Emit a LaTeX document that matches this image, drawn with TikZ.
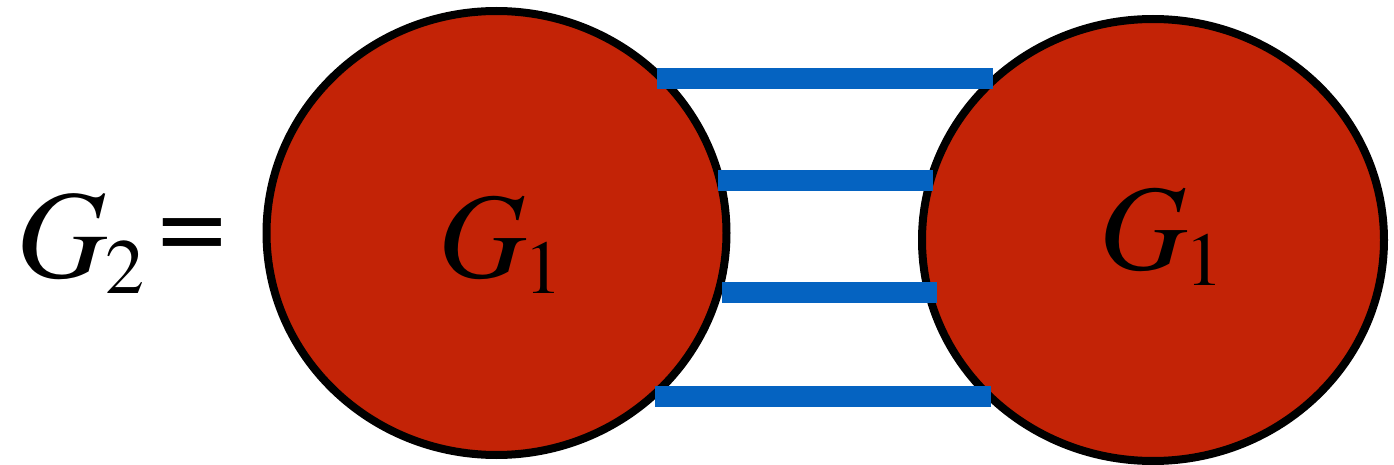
\documentclass[tikz,border=0pt]{standalone}
\usepackage{fontspec}
\setmainfont[ItalicFont=texgyretermes-italic.otf]{texgyretermes-regular.otf}
\usetikzlibrary{shapes.geometric}
\definecolor{gred}{HTML}{C32306}
\definecolor{gblue}{HTML}{0563C1}
\newcommand{\Gsym}[3]{{\fontsize{#1}{#1}\selectfont\itshape G}\kern-1pt\raisebox{-8pt}{\fontsize{#2}{#2}\selectfont #3}}
\begin{document}
\begin{tikzpicture}[x=0.5pt,y=-0.5pt,
  blob/.style={ellipse, draw=black, line width=4pt, fill=gred, inner sep=0pt},
  link/.style={draw=gblue, line width=10.5pt},
  lbl/.style={anchor=base west, inner sep=0pt}]
\useasboundingbox (0,0) rectangle (1394,465);
\node[blob, minimum width=230pt, minimum height=222pt] (L) at (496.5,233) {};
\node[blob, minimum width=231pt, minimum height=221pt] (R) at (1153,240) {};
\coordinate (a1) at (657,78.5);  \coordinate (b1) at (993,78.5);
\coordinate (a2) at (718,180.5); \coordinate (b2) at (933,180.5);
\coordinate (a3) at (722,292.5); \coordinate (b3) at (937,292.5);
\coordinate (a4) at (655,396.5); \coordinate (b4) at (991,396.5);
\draw[link] (a1) -- (b1);
\draw[link] (a2) -- (b2);
\draw[link] (a3) -- (b3);
\draw[link] (a4) -- (b4);
\node[lbl] (gl) at (438,278) {\Gsym{61}{38}{1}};
\node[lbl] (gr) at (1099,270) {\Gsym{61}{38}{1}};
\node[lbl] (g2) at (16,278) {\Gsym{63}{39}{2}};
\node[lbl] (eq) at (158,263) {\fontsize{60}{60}\selectfont =};
\end{tikzpicture}
\end{document}
